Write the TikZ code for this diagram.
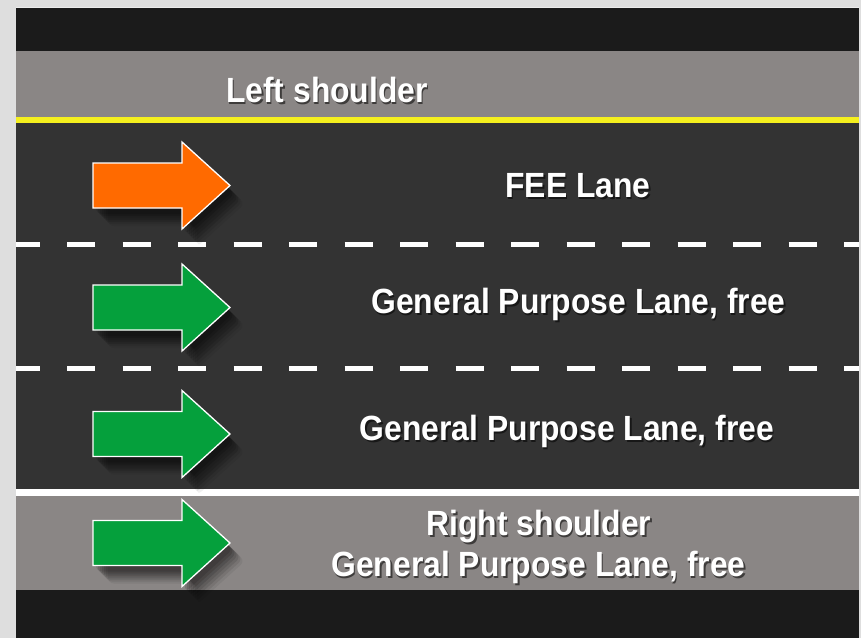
\documentclass[tikz,border=0pt]{standalone}
\usepackage{fontspec}
\newfontfamily\roadfont[FakeStretch=0.91]{Liberation Sans Bold}
\definecolor{framegray}{RGB}{222,222,222}
\definecolor{roadblack}{RGB}{27,27,27}
\definecolor{shouldergray}{RGB}{138,134,133}
\definecolor{lineyellow}{RGB}{245,240,30}
\definecolor{asphalt}{RGB}{51,51,51}
\definecolor{feeorange}{RGB}{255,106,0}
\definecolor{gpgreen}{RGB}{5,160,60}

\begin{document}
\begin{tikzpicture}[
    x=1pt, y=-1pt,
    lanefont/.style={font=\roadfont\fontsize{35}{40}\selectfont, text=white, inner sep=0pt},
    laneshadow/.style={lanefont, text=black, opacity=.55, xshift=1.5pt, yshift=-2pt},
    lanedash/.style={draw=white, line width=5pt, dash pattern=on 28pt off 27.5pt, dash phase=4.5pt},
    pics/lanearrow/.style={code={
        % soft shadow
        \foreach \d/\o in {3/.12, 5/.12, 7/.12, 9/.1, 11/.1, 13/.08, 15/.06}
          \fill[black, opacity=\o, shift={(\d,\d+3)}, rounded corners=6pt]
            (0,-22.5) -- (89,-22.5) -- (89,-43.5) -- (137,0) -- (89,43.5) -- (89,22.5) -- (0,22.5) -- cycle;
        \path[pic actions, draw=white, line width=1.3pt]
          (0,-22.5) -- (89,-22.5) -- (89,-43.5) -- (137,0) -- (89,43.5) -- (89,22.5) -- (0,22.5) -- cycle;
    }}
]
\useasboundingbox (0,0) rectangle (861,638);
\fill[framegray] (0,0) rectangle (861,638);

% road surface
\fill[roadblack] (16,8) rectangle (859,638);
\draw[white!85!gray, line width=1pt] (16,7.5) -- (859,7.5);
\fill[shouldergray] (16,51) rectangle (859,117);
\fill[lineyellow] (16,117) rectangle (859,123);
\fill[asphalt] (16,123) rectangle (859,489);
\fill[white] (16,489) rectangle (859,496);
\fill[shouldergray] (16,496) rectangle (859,590);

% lane markings
\draw[lanedash] (16,244.5) -- (859,244.5);
\draw[lanedash] (16,368.5) -- (859,368.5);

% direction arrows
\pic[fill=feeorange] (a1) at (93,185.5) {lanearrow};
\pic[fill=gpgreen] (a2) at (93,307.5) {lanearrow};
\pic[fill=gpgreen] (a3) at (93,434) {lanearrow};
\pic[fill=gpgreen] (a4) at (93,543) {lanearrow};

% lane labels
\foreach \n/\x/\y/\t in {lsh/327/102/{Left shoulder},
                        fee/578/197/{FEE Lane},
                        gp1/578.5/313/{General Purpose Lane, free},
                        gp2/567/440.5/{General Purpose Lane, free},
                        rsh/539/535/{Right shoulder},
                        gp3/538.5/576/{General Purpose Lane, free}} {
  \node[laneshadow, anchor=base] at (\x,\y) {\t};
  \node[lanefont, anchor=base] (\n) at (\x,\y) {\t};
}
\end{tikzpicture}
\end{document}
